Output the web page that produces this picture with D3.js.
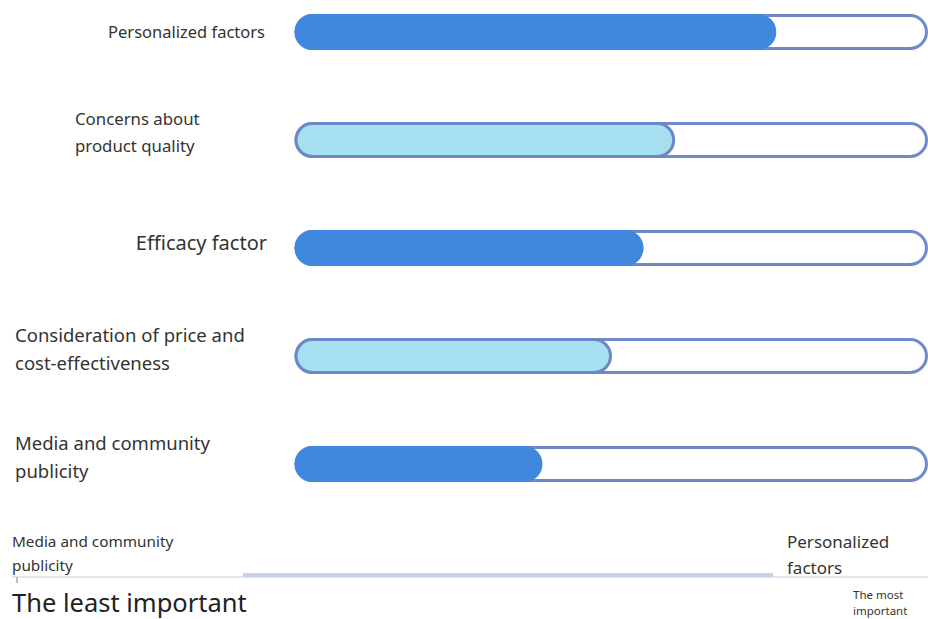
<!DOCTYPE html>
<html><head><meta charset="utf-8">
<script src="https://cdn.jsdelivr.net/npm/d3@7"></script>
<style>html,body{margin:0;padding:0;background:#fff;}svg{display:block;font-family:"Noto Sans",sans-serif;}</style>
</head><body>
<svg id="c" width="928" height="619"></svg>
<script>
const categories = ["Personalized factors","Concerns about product quality","Efficacy factor","Consideration of price and cost-effectiveness","Media and community publicity"];
const labelLines = [["Personalized factors"],["Concerns about","product quality"],["Efficacy factor"],["Consideration of price and","cost-effectiveness"],["Media and community","publicity"]];
const values = [76, 60, 55, 50, 39];
const fillKinds = ["dark","light","dark","light","dark"];
const scaleLeftLabel = ["Media and community","publicity"];
const scaleRightLabel = ["Personalized","factors"];
const leastLabel = "The least important";
const mostLabel = ["The most","important"];

const svg = d3.select("#c");
const x = d3.scaleLinear().domain([0,100]).range([296, 928]);
const y = d3.scaleBand().domain(categories).range([14, 482]).paddingInner(0.667).paddingOuter(0);
const bh = y.bandwidth();

const labelStyle = [
  {anchor:"end", x:265, size:16.5, dy:[0]},
  {anchor:"start", x:75, size:16.8, dy:[-21,6]},
  {anchor:"end", x:267, size:20, dy:[-5]},
  {anchor:"start", x:15, size:18.5, dy:[-20,8]},
  {anchor:"start", x:15, size:18.5, dy:[-20,8]}
];

const g = svg.append("g");
categories.forEach((c,i)=>{
  const y0 = y(c) + 1.5;
  const h = bh - 3;
  g.append("rect").attr("x", x(0)).attr("y", y0).attr("width", x(100)-x(0) - 1.5).attr("height", h)
    .attr("rx", h/2).attr("fill","#fff").attr("stroke","#7089c9").attr("stroke-width",3);
  const dark = fillKinds[i]==="dark";
  g.append("rect").attr("x", x(0)).attr("y", y0).attr("width", x(values[i])-x(0)-1.5).attr("height", h)
    .attr("rx", h/2).attr("fill", dark?"#3f88de":"#a6dff0")
    .attr("stroke", dark?"#3f88de":"#6a88c8").attr("stroke-width", 3);
  const st = labelStyle[i];
  const cy = y(c) + bh/2;
  labelLines[i].forEach((ln,j)=>{
    g.append("text").attr("x", st.x).attr("y", cy + st.dy[j]).attr("dy","0.35em")
      .attr("text-anchor", st.anchor).attr("font-size", st.size).attr("fill","#333").text(ln);
  });
});

// bottom scale
const sx = d3.scaleLinear().domain([0,100]).range([12, 928]);
svg.append("line").attr("x1", sx(0)).attr("x2", sx(100)).attr("y1",577).attr("y2",577).attr("stroke","#d8dde5").attr("stroke-width",1.5);
svg.append("rect").attr("x", 243).attr("y", 573).attr("width", 530).attr("height", 4).attr("fill","#c6d4ea");
svg.append("line").attr("x1",17).attr("x2",17).attr("y1",577).attr("y2",583).attr("stroke","#aaa").attr("stroke-width",1.5);

scaleLeftLabel.forEach((t,j)=>svg.append("text").attr("x",12).attr("y",547+j*24).attr("font-size",15.3).attr("fill","#333").text(t));
scaleRightLabel.forEach((t,j)=>svg.append("text").attr("x",787).attr("y",548+j*26).attr("font-size",17).attr("fill","#333").text(t));
svg.append("text").attr("x",12).attr("y",612).attr("font-size",25.5).attr("fill","#222").text(leastLabel);
mostLabel.forEach((t,j)=>svg.append("text").attr("x",853).attr("y",599+j*16).attr("font-size",11.5).attr("fill","#333").text(t));
</script>
</body></html>
